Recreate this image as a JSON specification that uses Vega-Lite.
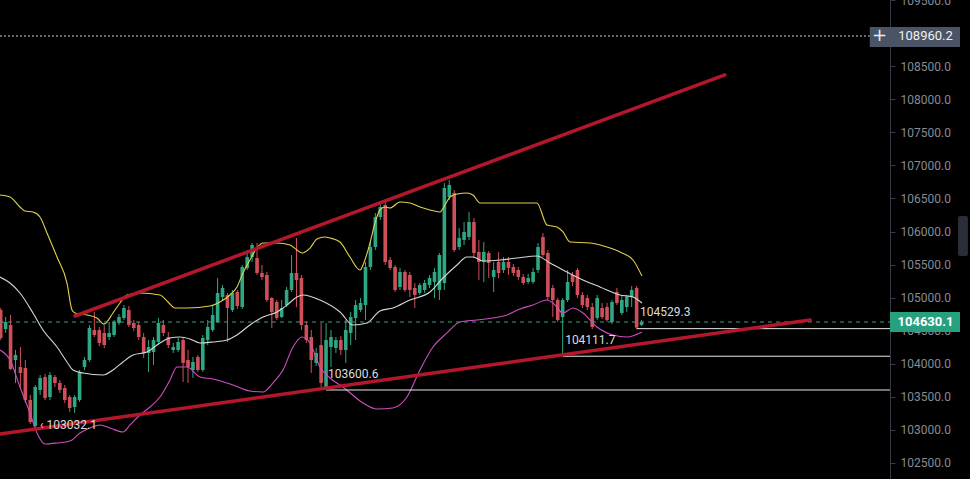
{
 "$schema": "https://vega.github.io/schema/vega-lite/v6.json",
 "width": 890,
 "height": 479,
 "autosize": {"type": "none"},
 "padding": {"left": 0, "top": 0, "right": 80, "bottom": 0},
 "background": "#000000",
 "config": {
  "view": {"stroke": null},
  "axisY": {"orient": "right", "format": ".1f", "title": null, "grid": false, "domainColor": "#363a45", "tickColor": "#363a45", "tickSize": 5, "labelColor": "#868b95", "labelFont": "Roboto", "labelFontSize": 12, "labelPadding": 5, "labelOverlap": false, "labelFlush": false, "labelBound": false}
 },
 "resolve": {"scale": {"color": "independent"}},
 "datasets": {
  "candles": [
{"t":0,"o":104812,"h":104842,"l":104357,"c":104388},
{"t":1,"o":104524,"h":104706,"l":104464,"c":104630},
{"t":2,"o":104585,"h":104736,"l":103903,"c":103919},
{"t":3,"o":104055,"h":104206,"l":103707,"c":104130},
{"t":4,"o":103949,"h":104251,"l":103631,"c":103858},
{"t":5,"o":103934,"h":104055,"l":103404,"c":103449},
{"t":6,"o":103449,"h":103525,"l":103086,"c":103116},
{"t":7,"o":103055,"h":103676,"l":103032.1,"c":103646},
{"t":8,"o":103600,"h":103827,"l":103525,"c":103782},
{"t":9,"o":103797,"h":103843,"l":103449,"c":103479},
{"t":10,"o":103494,"h":103873,"l":103449,"c":103827},
{"t":11,"o":103797,"h":103827,"l":103646,"c":103707},
{"t":12,"o":103707,"h":103752,"l":103555,"c":103600},
{"t":13,"o":103631,"h":103676,"l":103404,"c":103449},
{"t":14,"o":103494,"h":103525,"l":103268,"c":103328},
{"t":15,"o":103343,"h":103525,"l":103252,"c":103494},
{"t":16,"o":103449,"h":103903,"l":103419,"c":103873},
{"t":17,"o":103949,"h":104100,"l":103903,"c":104055},
{"t":18,"o":104055,"h":104585,"l":104025,"c":104539},
{"t":19,"o":104509,"h":104782,"l":104403,"c":104433},
{"t":20,"o":104509,"h":104554,"l":104266,"c":104312},
{"t":21,"o":104464,"h":104585,"l":104236,"c":104281},
{"t":22,"o":104403,"h":104630,"l":104357,"c":104464},
{"t":23,"o":104433,"h":104660,"l":104403,"c":104630},
{"t":24,"o":104615,"h":104751,"l":104585,"c":104706},
{"t":25,"o":104691,"h":104887,"l":104660,"c":104842},
{"t":26,"o":104812,"h":104872,"l":104554,"c":104585},
{"t":27,"o":104615,"h":104660,"l":104494,"c":104539},
{"t":28,"o":104585,"h":104630,"l":104357,"c":104403},
{"t":29,"o":104403,"h":104464,"l":104085,"c":104161},
{"t":30,"o":104161,"h":104357,"l":103873,"c":104251},
{"t":31,"o":104176,"h":104403,"l":103979,"c":104357},
{"t":32,"o":104327,"h":104691,"l":104281,"c":104615},
{"t":33,"o":104585,"h":104660,"l":104418,"c":104464},
{"t":34,"o":104403,"h":104479,"l":104236,"c":104281},
{"t":35,"o":104206,"h":104312,"l":104161,"c":104251},
{"t":36,"o":104206,"h":104388,"l":104176,"c":104327},
{"t":37,"o":104357,"h":104403,"l":103722,"c":104010},
{"t":38,"o":104055,"h":104206,"l":103707,"c":103949},
{"t":39,"o":103903,"h":104100,"l":103782,"c":104025},
{"t":40,"o":104100,"h":104130,"l":103873,"c":103903},
{"t":41,"o":103903,"h":104433,"l":103873,"c":104388},
{"t":42,"o":104357,"h":104660,"l":104281,"c":104554},
{"t":43,"o":104509,"h":104887,"l":104479,"c":104736},
{"t":44,"o":104630,"h":105296,"l":104615,"c":105069},
{"t":45,"o":105008,"h":105190,"l":104963,"c":105145},
{"t":46,"o":105039,"h":105069,"l":104327,"c":104842},
{"t":47,"o":104812,"h":105114,"l":104782,"c":105069},
{"t":48,"o":105084,"h":105114,"l":104827,"c":104872},
{"t":49,"o":104857,"h":105493,"l":104827,"c":105463},
{"t":50,"o":105448,"h":105720,"l":105417,"c":105614},
{"t":51,"o":105614,"h":105826,"l":105539,"c":105795},
{"t":52,"o":105599,"h":105826,"l":105342,"c":105372},
{"t":53,"o":105372,"h":105493,"l":105266,"c":105311},
{"t":54,"o":105342,"h":105387,"l":104933,"c":104963},
{"t":55,"o":104993,"h":105008,"l":104539,"c":104782},
{"t":56,"o":104933,"h":104963,"l":104660,"c":104691},
{"t":57,"o":104706,"h":104963,"l":104691,"c":104842},
{"t":58,"o":104887,"h":105160,"l":104857,"c":105114},
{"t":59,"o":105114,"h":105644,"l":105084,"c":105372},
{"t":60,"o":105372,"h":105902,"l":104857,"c":105266},
{"t":61,"o":105296,"h":105342,"l":104509,"c":104585},
{"t":62,"o":104585,"h":104630,"l":104312,"c":104357},
{"t":63,"o":104403,"h":104509,"l":103858,"c":104055},
{"t":64,"o":104010,"h":104236,"l":103964,"c":104161},
{"t":65,"o":104281,"h":104615,"l":103646,"c":103707},
{"t":66,"o":103646,"h":104615,"l":103600.6,"c":104357},
{"t":67,"o":104251,"h":104509,"l":103949,"c":104403},
{"t":68,"o":104236,"h":104403,"l":104161,"c":104357},
{"t":69,"o":104357,"h":104418,"l":104130,"c":104206},
{"t":70,"o":104206,"h":104660,"l":104010,"c":104509},
{"t":71,"o":104464,"h":104782,"l":104281,"c":104706},
{"t":72,"o":104691,"h":104963,"l":104357,"c":104887},
{"t":73,"o":104812,"h":104993,"l":104782,"c":104918},
{"t":74,"o":104887,"h":105539,"l":104660,"c":105463},
{"t":75,"o":105463,"h":105841,"l":105417,"c":105765},
{"t":76,"o":105765,"h":106281,"l":105720,"c":106220},
{"t":77,"o":106220,"h":106447,"l":106174,"c":106371},
{"t":78,"o":106401,"h":106447,"l":105493,"c":105539},
{"t":79,"o":105569,"h":105614,"l":105417,"c":105448},
{"t":80,"o":105463,"h":105493,"l":105084,"c":105114},
{"t":81,"o":105160,"h":105448,"l":105114,"c":105387},
{"t":82,"o":105387,"h":105417,"l":105084,"c":105114},
{"t":83,"o":105342,"h":105387,"l":105008,"c":105114},
{"t":84,"o":105145,"h":105220,"l":104842,"c":105039},
{"t":85,"o":105069,"h":105220,"l":105039,"c":105190},
{"t":86,"o":105114,"h":105266,"l":105069,"c":105220},
{"t":87,"o":105190,"h":105342,"l":105145,"c":105296},
{"t":88,"o":105236,"h":105448,"l":104993,"c":105387},
{"t":89,"o":105114,"h":105675,"l":104963,"c":105644},
{"t":90,"o":105220,"h":106735,"l":105114,"c":106659},
{"t":91,"o":106522,"h":106780,"l":106477,"c":106704},
{"t":92,"o":106583,"h":106628,"l":105690,"c":105720},
{"t":93,"o":105765,"h":106053,"l":105720,"c":105902},
{"t":94,"o":105871,"h":106144,"l":105795,"c":105993},
{"t":95,"o":105917,"h":106296,"l":105871,"c":106144},
{"t":96,"o":106144,"h":106205,"l":105599,"c":105675},
{"t":97,"o":105690,"h":105871,"l":105266,"c":105539},
{"t":98,"o":105539,"h":105841,"l":105236,"c":105690},
{"t":99,"o":105675,"h":105705,"l":105296,"c":105524},
{"t":100,"o":105311,"h":105539,"l":105084,"c":105417},
{"t":101,"o":105539,"h":105690,"l":105296,"c":105372},
{"t":102,"o":105417,"h":105614,"l":105372,"c":105539},
{"t":103,"o":105539,"h":105614,"l":105342,"c":105448},
{"t":104,"o":105463,"h":105508,"l":105326,"c":105372},
{"t":105,"o":105417,"h":105463,"l":105266,"c":105311},
{"t":106,"o":105311,"h":105357,"l":105190,"c":105220},
{"t":107,"o":105236,"h":105357,"l":105205,"c":105296},
{"t":108,"o":105236,"h":105448,"l":105205,"c":105387},
{"t":109,"o":105417,"h":105826,"l":105372,"c":105765},
{"t":110,"o":105917,"h":105978,"l":105614,"c":105644},
{"t":111,"o":105675,"h":105720,"l":104963,"c":105008},
{"t":112,"o":105145,"h":105190,"l":104706,"c":104963},
{"t":113,"o":104963,"h":104993,"l":104630,"c":104660},
{"t":114,"o":104706,"h":104993,"l":104111.7,"c":104963},
{"t":115,"o":104963,"h":105417,"l":104933,"c":105236},
{"t":116,"o":105342,"h":105387,"l":105175,"c":105236},
{"t":117,"o":105417,"h":105448,"l":104993,"c":105039},
{"t":118,"o":105039,"h":105084,"l":104842,"c":104887},
{"t":119,"o":104993,"h":105039,"l":104812,"c":104857},
{"t":120,"o":104857,"h":104918,"l":104520,"c":104554},
{"t":121,"o":104691,"h":105039,"l":104660,"c":104993},
{"t":122,"o":104842,"h":104918,"l":104676,"c":104706},
{"t":123,"o":104857,"h":104918,"l":104630,"c":104660},
{"t":124,"o":104630,"h":104963,"l":104600,"c":104933},
{"t":125,"o":105084,"h":105145,"l":104887,"c":104918},
{"t":126,"o":104766,"h":105039,"l":104736,"c":104963},
{"t":127,"o":104857,"h":105039,"l":104782,"c":105008},
{"t":128,"o":105008,"h":105175,"l":104857,"c":105114},
{"t":129,"o":105145,"h":105175,"l":104529.3,"c":104545},
{"t":130,"o":104585,"h":104660,"l":104569,"c":104630.1}
  ],
  "bands": [
{"b":"upper","t":-0.14,"v":106552},{"b":"upper","t":1.89,"v":106522},{"b":"upper","t":3.91,"v":106371},{"b":"upper","t":4.93,"v":106311},{"b":"upper","t":6.55,"v":106296},{"b":"upper","t":7.97,"v":106220},{"b":"upper","t":9.39,"v":105978},{"b":"upper","t":11.42,"v":105614},{"b":"upper","t":13.45,"v":105220},{"b":"upper","t":14.46,"v":104812},{"b":"upper","t":15.07,"v":104766},{"b":"upper","t":17.51,"v":104736},{"b":"upper","t":19.53,"v":104691},{"b":"upper","t":20.95,"v":104600},{"b":"upper","t":22.78,"v":104766},{"b":"upper","t":24.2,"v":104918},{"b":"upper","t":25.62,"v":105039},{"b":"upper","t":28.26,"v":105069},{"b":"upper","t":32.31,"v":105039},{"b":"upper","t":33.94,"v":104933},{"b":"upper","t":35.36,"v":104842},{"b":"upper","t":37.79,"v":104842},{"b":"upper","t":42.45,"v":104872},{"b":"upper","t":44.48,"v":104933},{"b":"upper","t":46.51,"v":105039},{"b":"upper","t":47.93,"v":105160},{"b":"upper","t":49.15,"v":105372},{"b":"upper","t":50.57,"v":105569},{"b":"upper","t":51.99,"v":105750},{"b":"upper","t":53.21,"v":105826},{"b":"upper","t":56.05,"v":105826},{"b":"upper","t":58.68,"v":105795},{"b":"upper","t":60.1,"v":105720},{"b":"upper","t":61.12,"v":105675},{"b":"upper","t":62.74,"v":105750},{"b":"upper","t":64.16,"v":105886},{"b":"upper","t":65.78,"v":105917},{"b":"upper","t":66.8,"v":105902},{"b":"upper","t":68.83,"v":105841},{"b":"upper","t":70.85,"v":105614},{"b":"upper","t":72.88,"v":105417},{"b":"upper","t":73.89,"v":105569},{"b":"upper","t":74.91,"v":105826},{"b":"upper","t":75.92,"v":106129},{"b":"upper","t":76.93,"v":106326},{"b":"upper","t":77.95,"v":106371},{"b":"upper","t":78.96,"v":106356},{"b":"upper","t":80.99,"v":106447},{"b":"upper","t":83.02,"v":106432},{"b":"upper","t":85.05,"v":106371},{"b":"upper","t":87.07,"v":106326},{"b":"upper","t":89.11,"v":106296},{"b":"upper","t":90.12,"v":106401},{"b":"upper","t":91.14,"v":106522},{"b":"upper","t":92.56,"v":106568},{"b":"upper","t":94.59,"v":106583},{"b":"upper","t":95.8,"v":106552},{"b":"upper","t":97.23,"v":106432},{"b":"upper","t":99.25,"v":106432},{"b":"upper","t":108.78,"v":106432},{"b":"upper","t":110.81,"v":106099},{"b":"upper","t":112.84,"v":106068},{"b":"upper","t":114.06,"v":105993},{"b":"upper","t":115.48,"v":105841},{"b":"upper","t":119.53,"v":105826},{"b":"upper","t":122.98,"v":105765},{"b":"upper","t":125.62,"v":105690},{"b":"upper","t":128.26,"v":105569},{"b":"upper","t":130.08,"v":105326},
{"b":"mid","t":-0.14,"v":105311},{"b":"mid","t":1.89,"v":105220},{"b":"mid","t":3.91,"v":105069},{"b":"mid","t":6.55,"v":104766},{"b":"mid","t":8.58,"v":104509},{"b":"mid","t":11.42,"v":104251},{"b":"mid","t":13.45,"v":104025},{"b":"mid","t":14.67,"v":103903},{"b":"mid","t":16.69,"v":103858},{"b":"mid","t":20.75,"v":103827},{"b":"mid","t":22.78,"v":103903},{"b":"mid","t":24.81,"v":104025},{"b":"mid","t":26.84,"v":104130},{"b":"mid","t":29.68,"v":104176},{"b":"mid","t":32.31,"v":104312},{"b":"mid","t":34.34,"v":104388},{"b":"mid","t":36.37,"v":104403},{"b":"mid","t":38.4,"v":104373},{"b":"mid","t":40.43,"v":104312},{"b":"mid","t":43.06,"v":104327},{"b":"mid","t":45.9,"v":104357},{"b":"mid","t":47.93,"v":104433},{"b":"mid","t":50.57,"v":104585},{"b":"mid","t":53.21,"v":104706},{"b":"mid","t":56.05,"v":104782},{"b":"mid","t":58.07,"v":104887},{"b":"mid","t":60.1,"v":105008},{"b":"mid","t":61.32,"v":105039},{"b":"mid","t":64.77,"v":104963},{"b":"mid","t":68.83,"v":104782},{"b":"mid","t":71.46,"v":104585},{"b":"mid","t":74.3,"v":104615},{"b":"mid","t":76.93,"v":104797},{"b":"mid","t":79.57,"v":104842},{"b":"mid","t":83.02,"v":104963},{"b":"mid","t":87.07,"v":105084},{"b":"mid","t":89.72,"v":105296},{"b":"mid","t":92.56,"v":105493},{"b":"mid","t":94.59,"v":105614},{"b":"mid","t":95.8,"v":105614},{"b":"mid","t":97.84,"v":105554},{"b":"mid","t":101.28,"v":105569},{"b":"mid","t":104.73,"v":105599},{"b":"mid","t":108.78,"v":105629},{"b":"mid","t":111.42,"v":105524},{"b":"mid","t":114.06,"v":105417},{"b":"mid","t":118.11,"v":105266},{"b":"mid","t":121.56,"v":105160},{"b":"mid","t":125.62,"v":105039},{"b":"mid","t":128.26,"v":105008},{"b":"mid","t":130.08,"v":104918},
{"b":"lower","t":-0.14,"v":104206},{"b":"lower","t":1.89,"v":104055},{"b":"lower","t":3.91,"v":103646},{"b":"lower","t":5.94,"v":103252},{"b":"lower","t":7.36,"v":102950},{"b":"lower","t":8.99,"v":102783},{"b":"lower","t":11.42,"v":102798},{"b":"lower","t":14.06,"v":102828},{"b":"lower","t":16.09,"v":102950},{"b":"lower","t":18.11,"v":103025},{"b":"lower","t":20.14,"v":103071},{"b":"lower","t":22.17,"v":103025},{"b":"lower","t":24.81,"v":102965},{"b":"lower","t":26.23,"v":103071},{"b":"lower","t":28.26,"v":103222},{"b":"lower","t":30.28,"v":103343},{"b":"lower","t":32.31,"v":103494},{"b":"lower","t":34.34,"v":103752},{"b":"lower","t":35.76,"v":103949},{"b":"lower","t":37.79,"v":103949},{"b":"lower","t":40.43,"v":103797},{"b":"lower","t":43.06,"v":103767},{"b":"lower","t":47.12,"v":103676},{"b":"lower","t":50.57,"v":103585},{"b":"lower","t":53.21,"v":103570},{"b":"lower","t":55.24,"v":103707},{"b":"lower","t":57.26,"v":103903},{"b":"lower","t":59.29,"v":104251},{"b":"lower","t":61.12,"v":104403},{"b":"lower","t":62.74,"v":104312},{"b":"lower","t":64.77,"v":103949},{"b":"lower","t":66.8,"v":103782},{"b":"lower","t":69.43,"v":103646},{"b":"lower","t":73.49,"v":103404},{"b":"lower","t":76.33,"v":103313},{"b":"lower","t":79.57,"v":103328},{"b":"lower","t":82.41,"v":103494},{"b":"lower","t":85.05,"v":103903},{"b":"lower","t":87.69,"v":104251},{"b":"lower","t":90.53,"v":104464},{"b":"lower","t":93.17,"v":104630},{"b":"lower","t":96.62,"v":104660},{"b":"lower","t":99.86,"v":104691},{"b":"lower","t":102.7,"v":104736},{"b":"lower","t":105.34,"v":104827},{"b":"lower","t":107.97,"v":104887},{"b":"lower","t":110.81,"v":104963},{"b":"lower","t":112.03,"v":104918},{"b":"lower","t":114.06,"v":104766},{"b":"lower","t":116.08,"v":104842},{"b":"lower","t":118.11,"v":104766},{"b":"lower","t":120.95,"v":104554},{"b":"lower","t":124.2,"v":104433},{"b":"lower","t":127.04,"v":104403},{"b":"lower","t":130.08,"v":104479}
  ],
  "trend": [
{"name":"up","t":15.07,"v":104721},{"name":"up","t":146.9,"v":108370},
{"name":"dn","t":-0.14,"v":102934},{"name":"dn","t":164.2,"v":104660}
  ],
  "levels": [
{"t0":129,"t1":180.4,"v":104529.3},{"t0":114,"t1":180.4,"v":104111.7},{"t0":66,"t1":180.4,"v":103600.6}
  ],
  "last": [{"t0":-0.14,"t1":180.4,"v":104630.1}],
  "high": [{"t0":-0.14,"t1":176.3,"v":108960.2}],
  "notes": [
{"t":129.7,"v":104781,"s":"104529.3"},{"t":114.5,"v":104357,"s":"104111.7"},{"t":66.4,"v":103843,"s":"103600.6"},{"t":7.97,"v":103071,"s":"‹ 103032.1"}
  ],
  "graybox": [{"t0":176.3,"t1":194.6,"v0":108793,"v1":109096}],
  "greenbox": [{"t0":180.4,"t1":194.6,"v0":104479,"v1":104782}],
  "thumb": [{"t0":194.2,"t1":196.2,"v0":105629,"v1":106235}],
  "graytext": [{"t":187.6,"v":108960.2,"s":"108960.2"}],
  "greentext": [{"t":187.6,"v":104630.1,"s":"104630.1"}],
  "plus": [{"t":178.3,"v":108960.2,"s":"+"}]
 },
 "layer": [
  {
   "data": {"name": "candles"},
   "mark": {"type": "rule", "strokeWidth": 1},
   "encoding": {
    "x": {"field": "t", "type": "quantitative", "scale": {"domain": [-0.14, 180.4], "nice": false, "zero": false}, "axis": null},
    "y": {"field": "l", "type": "quantitative", "scale": {"domain": [102253, 109505], "nice": false, "zero": false}, "axis": {"title": null, "values": [102500,103000,103500,104000,104500,105000,105500,106000,106500,107000,107500,108000,108500,109500]}},
    "y2": {"field": "h"},
    "color": {"condition": {"test": "datum.c >= datum.o", "value": "#2ea884"}, "value": "#d0505a"}
   }
  },
  {
   "data": {"name": "candles"},
   "mark": {"type": "rule", "strokeWidth": 3.6, "strokeCap": "butt"},
   "encoding": {
    "x": {"field": "t", "type": "quantitative", "scale": {"domain": [-0.14, 180.4], "nice": false, "zero": false}, "axis": null},
    "y": {"field": "o", "type": "quantitative", "scale": {"domain": [102253, 109505], "nice": false, "zero": false}, "axis": {"title": null, "values": [102500,103000,103500,104000,104500,105000,105500,106000,106500,107000,107500,108000,108500,109500]}},
    "y2": {"field": "c"},
    "color": {"condition": {"test": "datum.c >= datum.o", "value": "#2ea884"}, "value": "#d0505a"}
   }
  },
  {
   "data": {"name": "bands"},
   "mark": {"type": "line", "strokeWidth": 1.1, "interpolate": "monotone"},
   "encoding": {
    "x": {"field": "t", "type": "quantitative", "scale": {"domain": [-0.14, 180.4], "nice": false, "zero": false}, "axis": null},
    "y": {"field": "v", "type": "quantitative", "scale": {"domain": [102253, 109505], "nice": false, "zero": false}, "axis": {"title": null, "values": [102500,103000,103500,104000,104500,105000,105500,106000,106500,107000,107500,108000,108500,109500]}},
    "color": {"field": "b", "type": "nominal", "scale": {"domain": ["upper", "mid", "lower"], "range": ["#e3d04a", "#d6d6d6", "#cf4fbf"]}, "legend": null}
   }
  },
  {
   "data": {"name": "last"},
   "mark": {"type": "rule", "strokeWidth": 1, "strokeDash": [4, 4], "color": "#3c9e86"},
   "encoding": {
    "x": {"field": "t0", "type": "quantitative", "scale": {"domain": [-0.14, 180.4], "nice": false, "zero": false}, "axis": null},
    "x2": {"field": "t1"},
    "y": {"field": "v", "type": "quantitative", "scale": {"domain": [102253, 109505], "nice": false, "zero": false}, "axis": {"title": null, "values": [102500,103000,103500,104000,104500,105000,105500,106000,106500,107000,107500,108000,108500,109500]}}
   }
  },
  {
   "data": {"name": "high"},
   "mark": {"type": "rule", "strokeWidth": 1, "strokeDash": [2, 2], "color": "#d0d0d0"},
   "encoding": {
    "x": {"field": "t0", "type": "quantitative", "scale": {"domain": [-0.14, 180.4], "nice": false, "zero": false}, "axis": null},
    "x2": {"field": "t1"},
    "y": {"field": "v", "type": "quantitative", "scale": {"domain": [102253, 109505], "nice": false, "zero": false}, "axis": {"title": null, "values": [102500,103000,103500,104000,104500,105000,105500,106000,106500,107000,107500,108000,108500,109500]}}
   }
  },
  {
   "data": {"name": "levels"},
   "mark": {"type": "rule", "strokeWidth": 1, "color": "#e8e8e8"},
   "encoding": {
    "x": {"field": "t0", "type": "quantitative", "scale": {"domain": [-0.14, 180.4], "nice": false, "zero": false}, "axis": null},
    "x2": {"field": "t1"},
    "y": {"field": "v", "type": "quantitative", "scale": {"domain": [102253, 109505], "nice": false, "zero": false}, "axis": {"title": null, "values": [102500,103000,103500,104000,104500,105000,105500,106000,106500,107000,107500,108000,108500,109500]}}
   }
  },
  {
   "data": {"name": "trend"},
   "mark": {"type": "line", "strokeWidth": 3.5, "color": "#b3172c", "strokeCap": "round"},
   "encoding": {
    "x": {"field": "t", "type": "quantitative", "scale": {"domain": [-0.14, 180.4], "nice": false, "zero": false}, "axis": null},
    "y": {"field": "v", "type": "quantitative", "scale": {"domain": [102253, 109505], "nice": false, "zero": false}, "axis": {"title": null, "values": [102500,103000,103500,104000,104500,105000,105500,106000,106500,107000,107500,108000,108500,109500]}},
    "detail": {"field": "name"}
   }
  },
  {
   "data": {"name": "notes"},
   "mark": {"type": "text", "align": "left", "baseline": "middle", "font": "Roboto", "fontSize": 12, "color": "#dcdcdc"},
   "encoding": {
    "x": {"field": "t", "type": "quantitative", "scale": {"domain": [-0.14, 180.4], "nice": false, "zero": false}, "axis": null},
    "y": {"field": "v", "type": "quantitative", "scale": {"domain": [102253, 109505], "nice": false, "zero": false}, "axis": {"title": null, "values": [102500,103000,103500,104000,104500,105000,105500,106000,106500,107000,107500,108000,108500,109500]}},
    "text": {"field": "s"}
   }
  },
  {
   "data": {"name": "graybox"},
   "mark": {"type": "rect", "color": "#4b5465"},
   "encoding": {
    "x": {"field": "t0", "type": "quantitative", "scale": {"domain": [-0.14, 180.4], "nice": false, "zero": false}, "axis": null},
    "x2": {"field": "t1"},
    "y": {"field": "v0", "type": "quantitative", "scale": {"domain": [102253, 109505], "nice": false, "zero": false}, "axis": {"title": null, "values": [102500,103000,103500,104000,104500,105000,105500,106000,106500,107000,107500,108000,108500,109500]}},
    "y2": {"field": "v1"}
   }
  },
  {
   "data": {"name": "greenbox"},
   "mark": {"type": "rect", "color": "#27a07f"},
   "encoding": {
    "x": {"field": "t0", "type": "quantitative", "scale": {"domain": [-0.14, 180.4], "nice": false, "zero": false}, "axis": null},
    "x2": {"field": "t1"},
    "y": {"field": "v0", "type": "quantitative", "scale": {"domain": [102253, 109505], "nice": false, "zero": false}, "axis": {"title": null, "values": [102500,103000,103500,104000,104500,105000,105500,106000,106500,107000,107500,108000,108500,109500]}},
    "y2": {"field": "v1"}
   }
  },
  {
   "data": {"name": "thumb"},
   "mark": {"type": "rect", "color": "#2a2e37", "cornerRadius": 2},
   "encoding": {
    "x": {"field": "t0", "type": "quantitative", "scale": {"domain": [-0.14, 180.4], "nice": false, "zero": false}, "axis": null},
    "x2": {"field": "t1"},
    "y": {"field": "v0", "type": "quantitative", "scale": {"domain": [102253, 109505], "nice": false, "zero": false}, "axis": {"title": null, "values": [102500,103000,103500,104000,104500,105000,105500,106000,106500,107000,107500,108000,108500,109500]}},
    "y2": {"field": "v1"}
   }
  },
  {
   "data": {"name": "graytext"},
   "mark": {"type": "text", "align": "center", "baseline": "middle", "font": "Roboto", "fontSize": 13, "color": "#eef0f4"},
   "encoding": {
    "x": {"field": "t", "type": "quantitative", "scale": {"domain": [-0.14, 180.4], "nice": false, "zero": false}, "axis": null},
    "y": {"field": "v", "type": "quantitative", "scale": {"domain": [102253, 109505], "nice": false, "zero": false}, "axis": {"title": null, "values": [102500,103000,103500,104000,104500,105000,105500,106000,106500,107000,107500,108000,108500,109500]}},
    "text": {"field": "s"}
   }
  },
  {
   "data": {"name": "greentext"},
   "mark": {"type": "text", "align": "center", "baseline": "middle", "font": "Roboto", "fontSize": 13, "fontWeight": "bold", "color": "#ffffff"},
   "encoding": {
    "x": {"field": "t", "type": "quantitative", "scale": {"domain": [-0.14, 180.4], "nice": false, "zero": false}, "axis": null},
    "y": {"field": "v", "type": "quantitative", "scale": {"domain": [102253, 109505], "nice": false, "zero": false}, "axis": {"title": null, "values": [102500,103000,103500,104000,104500,105000,105500,106000,106500,107000,107500,108000,108500,109500]}},
    "text": {"field": "s"}
   }
  },
  {
   "data": {"name": "plus"},
   "mark": {"type": "text", "align": "center", "baseline": "middle", "font": "DejaVu Sans", "fontSize": 18, "color": "#e6e9ef"},
   "encoding": {
    "x": {"field": "t", "type": "quantitative", "scale": {"domain": [-0.14, 180.4], "nice": false, "zero": false}, "axis": null},
    "y": {"field": "v", "type": "quantitative", "scale": {"domain": [102253, 109505], "nice": false, "zero": false}, "axis": {"title": null, "values": [102500,103000,103500,104000,104500,105000,105500,106000,106500,107000,107500,108000,108500,109500]}},
    "text": {"field": "s"}
   }
  }
 ]
}
